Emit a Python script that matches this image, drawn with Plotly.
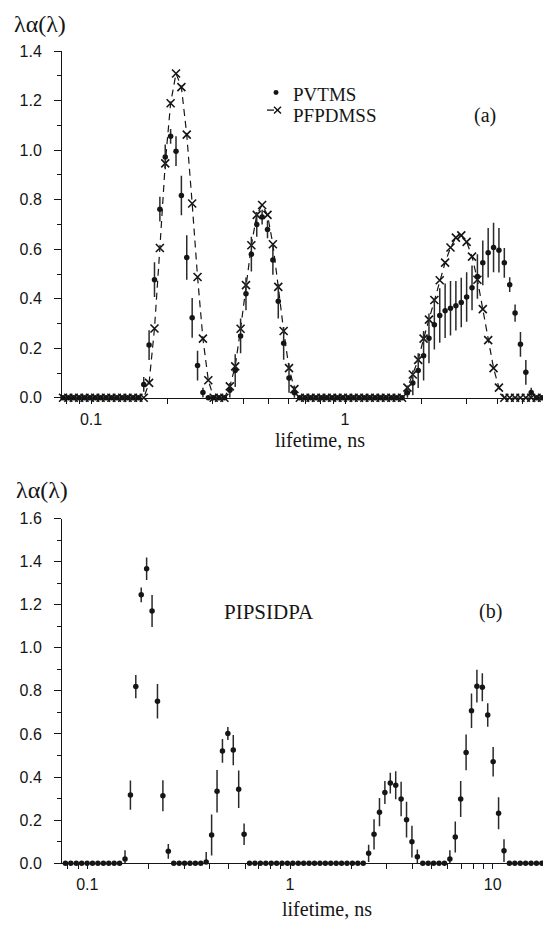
import plotly.graph_objects as go

# ---------------- data: panel (a) ----------------
top_lifetime = [
    0.0776, 0.0814, 0.0855, 0.0898, 0.0943, 0.0990, 0.1039, 0.1091, 0.1146, 0.1203,
    0.1264, 0.1327, 0.1393, 0.1463, 0.1536,
    0.1613, 0.1693, 0.1778, 0.1867, 0.1960, 0.2058, 0.2161, 0.2269, 0.2382, 0.2502,
    0.2627, 0.2758, 0.2896, 0.3041, 0.3193, 0.3352,
    0.3520, 0.3696, 0.3881, 0.4075, 0.4279, 0.4493, 0.4717, 0.4953, 0.5201, 0.5461,
    0.5734, 0.6020, 0.6321,
    0.6637, 0.6969, 0.7318, 0.7684, 0.8068, 0.8471, 0.8895, 0.9340, 0.9807, 1.0297,
    1.0812, 1.1353, 1.1920, 1.2516, 1.3142, 1.3799, 1.4489, 1.5214, 1.5974, 1.6773,
    1.7612, 1.8492, 1.9417, 2.0388, 2.1407, 2.2478, 2.3602, 2.4782, 2.6020, 2.7321,
    2.8687, 3.0121, 3.1627, 3.3209, 3.4869, 3.6613, 3.8443, 4.0365, 4.2384, 4.4503,
    4.6728, 4.9064, 5.1518, 5.4093, 5.6798, 5.9638,
]
pvtms = [
    0, 0, 0, 0, 0, 0, 0, 0, 0, 0, 0, 0, 0, 0, 0,
    0.054, 0.213, 0.477, 0.762, 0.973, 1.056, 0.996, 0.817, 0.567, 0.323,
    0.13, 0.021, 0, 0, 0, 0,
    0.03, 0.11, 0.25, 0.42, 0.58, 0.70, 0.73, 0.68, 0.557, 0.39, 0.22, 0.08, 0.02,
    0, 0, 0, 0, 0, 0, 0, 0, 0, 0, 0, 0, 0, 0, 0, 0, 0, 0, 0, 0,
    0.02, 0.06, 0.11, 0.17, 0.24, 0.295, 0.332, 0.352, 0.362, 0.372, 0.385, 0.407,
    0.444, 0.49, 0.545, 0.586, 0.607, 0.596, 0.545, 0.457, 0.342, 0.216, 0.103,
    0.021, 0, 0,
]
pvtms_err = [
    0, 0, 0, 0, 0, 0, 0, 0, 0, 0, 0, 0, 0, 0, 0,
    0.03, 0.06, 0.07, 0.05, 0.05, 0.03, 0.06, 0.08, 0.09, 0.08,
    0.06, 0.02, 0, 0, 0, 0,
    0.03, 0.066, 0.07, 0.066, 0.07, 0.05, 0.03, 0.036, 0.06, 0.07, 0.066, 0.06, 0.03,
    0, 0, 0, 0, 0, 0, 0, 0, 0, 0, 0, 0, 0, 0, 0, 0, 0, 0, 0, 0,
    0.03, 0.05, 0.07, 0.1, 0.1, 0.1, 0.11, 0.11, 0.11, 0.1, 0.1, 0.1,
    0.09, 0.09, 0.09, 0.1, 0.1, 0.09, 0.06, 0.03, 0.035, 0.05, 0.05,
    0.02, 0, 0,
]
pfpdmss = [
    0, 0, 0, 0, 0, 0, 0, 0, 0, 0, 0, 0, 0, 0, 0,
    0, 0.06, 0.28, 0.605, 0.947, 1.19, 1.31, 1.255, 1.063, 0.785,
    0.488, 0.239, 0.071, 0, 0, 0,
    0.046, 0.127, 0.279, 0.455, 0.616, 0.739, 0.779, 0.739, 0.62, 0.448, 0.27, 0.12, 0.035,
    0, 0, 0, 0, 0, 0, 0, 0, 0, 0, 0, 0, 0, 0, 0, 0, 0, 0, 0, 0,
    0.041, 0.094, 0.153, 0.239, 0.316, 0.395, 0.475, 0.546, 0.607, 0.647, 0.656, 0.63,
    0.57, 0.477, 0.358, 0.233, 0.12, 0.041, 0, 0, 0, 0, 0, 0,
    0, 0,
]

# ---------------- data: panel (b) ----------------
bot_lifetime = [
    0.0780, 0.0829, 0.0882, 0.0938, 0.0998, 0.1061, 0.1128, 0.1200, 0.1276, 0.1357, 0.1443,
    0.1535, 0.1632, 0.1735, 0.1845, 0.1962, 0.2087, 0.2219, 0.2360, 0.2510,
    0.2669, 0.2839, 0.3019, 0.3210, 0.3414, 0.3630,
    0.3860, 0.4105, 0.4366, 0.4643, 0.4937, 0.5250, 0.5583, 0.5937,
    0.6314, 0.6714, 0.7143, 0.7596, 0.8078, 0.8590, 0.9134, 0.9712, 1.0328, 1.0983,
    1.1679, 1.2420, 1.3207, 1.4049, 1.4939, 1.5886, 1.6893, 1.7964, 1.9103, 2.0314,
    2.1601, 2.2971,
    2.4427, 2.5976, 2.7631, 2.9383, 3.1245, 3.3226, 3.5332, 3.7572, 3.9954, 4.2487,
    4.5186, 4.8050, 5.1096, 5.4355, 5.7801,
    6.1465, 6.5362, 6.9502, 7.3908, 7.8593, 8.3575, 8.8872, 9.4506, 10.051, 10.690, 11.368,
    12.088, 12.855, 13.669, 14.536, 15.457, 16.437, 17.479,
]
pipsidpa = [
    0, 0, 0, 0, 0, 0, 0, 0, 0, 0, 0,
    0.02, 0.316, 0.82, 1.246, 1.367, 1.171, 0.752, 0.313, 0.055,
    0, 0, 0, 0, 0, 0,
    0.005, 0.131, 0.334, 0.521, 0.602, 0.525, 0.343, 0.134,
    0, 0, 0, 0, 0, 0, 0, 0, 0, 0, 0, 0, 0, 0, 0, 0, 0, 0, 0, 0, 0, 0,
    0.046, 0.134, 0.237, 0.328, 0.372, 0.362, 0.298, 0.202, 0.10, 0.03,
    0, 0, 0, 0, 0,
    0.02, 0.122, 0.298, 0.514, 0.708, 0.822, 0.817, 0.688, 0.471, 0.232, 0.058,
    0, 0, 0, 0, 0, 0, 0,
]
pipsidpa_err = [
    0, 0, 0, 0, 0, 0, 0, 0, 0, 0, 0,
    0.04, 0.068, 0.054, 0.034, 0.052, 0.074, 0.08, 0.072, 0.034,
    0, 0, 0, 0, 0, 0,
    0.047, 0.095, 0.099, 0.055, 0.03, 0.07, 0.087, 0.05,
    0, 0, 0, 0, 0, 0, 0, 0, 0, 0, 0, 0, 0, 0, 0, 0, 0, 0, 0, 0, 0, 0,
    0.04, 0.07, 0.066, 0.053, 0.048, 0.065, 0.08, 0.083, 0.074, 0.034,
    0, 0, 0, 0, 0,
    0.04, 0.072, 0.083, 0.083, 0.08, 0.076, 0.065, 0.055, 0.068, 0.074, 0.053,
    0, 0, 0, 0, 0, 0, 0,
]

top_tick_vals = [0.08, 0.09, 0.1, 0.2, 0.3, 0.4, 0.5, 0.6, 0.7, 0.8, 0.9, 1, 2, 3, 4, 5]
top_tick_text = ["", "", "0.1", "", "", "", "", "", "", "", "", "1", "", "", "", ""]
bot_tick_vals = [0.08, 0.09, 0.1, 0.2, 0.3, 0.4, 0.5, 0.6, 0.7, 0.8, 0.9, 1,
                 2, 3, 4, 5, 6, 7, 8, 9, 10]
bot_tick_text = ["", "", "0.1", "", "", "", "", "", "", "", "", "1",
                 "", "", "", "", "", "", "", "", "10"]

# ---------------- figure ----------------
W, H = 543, 936
INK = "#151515"
SERIF = "Liberation Serif, Times New Roman, serif"
SANS = "Liberation Sans, Arial, sans-serif"


def px(p):
    return p / W


def py(p):
    return 1 - p / H


fig = go.Figure()

fig.add_trace(go.Scatter(
    x=top_lifetime, y=pfpdmss, mode="lines+markers", name="PFPDMSS",
    xaxis="x", yaxis="y", cliponaxis=False,
    line=dict(color=INK, width=1.2, dash="7px,5px"),
    marker=dict(symbol="x-thin", size=8, line=dict(width=1.6, color=INK)),
))
fig.add_trace(go.Scatter(
    x=top_lifetime, y=pvtms, mode="markers", name="PVTMS",
    xaxis="x", yaxis="y", cliponaxis=False,
    marker=dict(symbol="circle", size=5.5, color=INK),
    error_y=dict(type="data", array=pvtms_err, visible=True,
                 thickness=1.5, width=0, color="#2a2a2a"),
))
fig.add_trace(go.Scatter(
    x=bot_lifetime, y=pipsidpa, mode="markers", name="PIPSIDPA",
    xaxis="x2", yaxis="y2", cliponaxis=False,
    marker=dict(symbol="circle", size=5.5, color=INK),
    error_y=dict(type="data", array=pipsidpa_err, visible=True,
                 thickness=1.5, width=0, color="#2a2a2a"),
))

xcommon = dict(type="log", showline=True, linecolor=INK, linewidth=1,
               ticks="outside", ticklen=5, tickwidth=1, tickcolor=INK,
               showgrid=False, zeroline=False, tickmode="array",
               tickfont=dict(family=SANS, size=16, color=INK),
               ticklabelstandoff=2)
ycommon = dict(showline=True, linecolor=INK, linewidth=1,
               ticks="outside", ticklen=7, tickwidth=1, tickcolor=INK,
               showgrid=False, zeroline=False, dtick=0.2, tick0=0,
               tickformat=".1f",
               minor=dict(dtick=0.1, ticks="outside", ticklen=4, tickcolor=INK),
               tickfont=dict(family=SANS, size=16, color=INK),
               ticklabelstandoff=9)

fig.update_layout(
    width=W, height=H,
    margin=dict(l=0, r=0, t=0, b=0),
    paper_bgcolor="white", plot_bgcolor="white",
    showlegend=False,
    xaxis=dict(xcommon, domain=[px(62), 1], range=[-1.1142, 0.7795], anchor="y",
               tickvals=top_tick_vals, ticktext=top_tick_text),
    yaxis=dict(ycommon, domain=[py(397), py(44)], range=[0, 1.4], anchor="x"),
    xaxis2=dict(xcommon, domain=[px(62), 1], range=[-1.1248, 1.2481], anchor="y2",
                tickvals=bot_tick_vals, ticktext=bot_tick_text),
    yaxis2=dict(ycommon, domain=[py(871), py(520)], range=[0, 1.6], anchor="x2"),
)

annots = [
    dict(text="λα(λ)", x=px(12), y=py(16), xanchor="left", size=24),
    dict(text="λα(λ)", x=px(14), y=py(491), xanchor="left", size=24),
    dict(text="lifetime, ns", x=px(320), y=py(440), xanchor="center", size=20),
    dict(text="lifetime, ns", x=px(327), y=py(918), xanchor="center", size=20),
    dict(text="PVTMS", x=px(291), y=py(88), xanchor="left", size=19),
    dict(text="PFPDMSS", x=px(291), y=py(109), xanchor="left", size=19),
    dict(text="(a)", x=px(485), y=py(109), xanchor="center", size=20),
    dict(text="PIPSIDPA", x=px(222), y=py(615), xanchor="left", size=21),
    dict(text="(b)", x=px(490), y=py(615), xanchor="center", size=20),
]
for a in annots:
    size = a.pop("size")
    fig.add_annotation(xref="paper", yref="paper", yanchor="middle",
                       showarrow=False,
                       font=dict(family=SERIF, size=size, color=INK), **a)

# legend symbols
fig.add_shape(type="circle", xref="paper", yref="paper",
              x0=px(273.5), x1=px(278.5), y0=py(88.5), y1=py(83.5),
              fillcolor=INK, line=dict(color=INK, width=0))
fig.add_shape(type="line", xref="paper", yref="paper",
              x0=px(267), x1=px(274), y0=py(104), y1=py(104),
              line=dict(color=INK, width=1.3))
fig.add_shape(type="line", xref="paper", yref="paper",
              x0=px(274), x1=px(281), y0=py(100.5), y1=py(107.5),
              line=dict(color=INK, width=1.5))
fig.add_shape(type="line", xref="paper", yref="paper",
              x0=px(274), x1=px(281), y0=py(107.5), y1=py(100.5),
              line=dict(color=INK, width=1.5))

fig.write_html("out.html")
